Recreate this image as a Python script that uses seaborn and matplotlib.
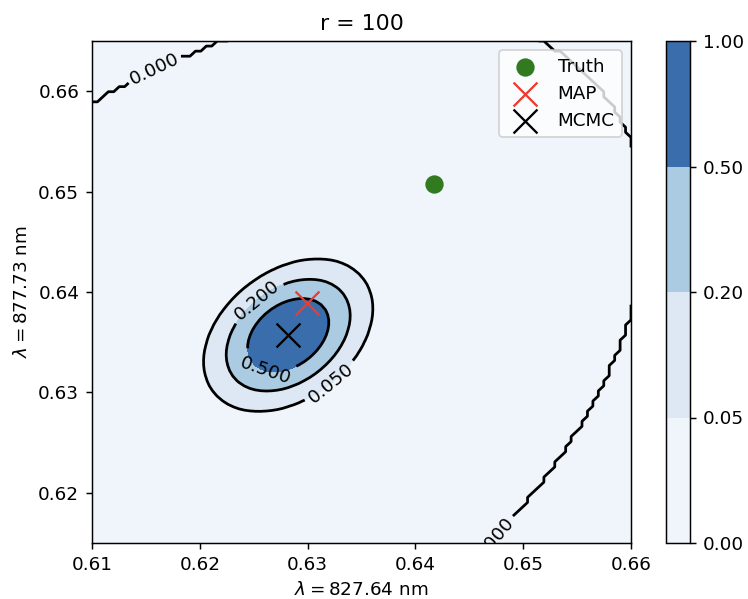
import numpy as np
import matplotlib
matplotlib.use("Agg")
import matplotlib.pyplot as plt
import seaborn as sns

# ---------------- data ----------------
title = "r = 100"
xlabel = r"$\lambda = 827.64$ nm"
ylabel = r"$\lambda = 877.73$ nm"
x_lim = [0.61, 0.66]
y_lim = [0.615, 0.665]
x_ticks = [0.61, 0.62, 0.63, 0.64, 0.65, 0.66]
y_ticks = [0.62, 0.63, 0.64, 0.65, 0.66]
levels = [0.0, 0.05, 0.2, 0.5, 1.0]
level_colors = ["#f0f5fb", "#dde8f4", "#aacbe1", "#3a6dac"]

# posterior core (estimated from the contour extents)
post_center = [0.6282, 0.6357]
post_sigma = [0.0032, 0.0031]
post_rho = 0.35

# points (edge of the non-zero support)
support_x = [0.6100, 0.6160, 0.6219, 0.6507, 0.6518, 0.6593, 0.6600,
             0.6600, 0.6583, 0.6571, 0.6531, 0.6488, 0.6470]
support_y = [0.6585, 0.6618, 0.6650, 0.6650, 0.6643, 0.6568, 0.6553,
             0.6410, 0.6332, 0.6292, 0.6250, 0.6178, 0.6150]

truth = [0.6417, 0.6508]
map_est = [0.6299, 0.6389]
mcmc = [0.6282, 0.6357]

grid_n = 100

# contour-label anchor positions (layout)
label_pos = [(0.6159, 0.6621), (0.6469, 0.6158), (0.6322, 0.6309),
             (0.6251, 0.6394), (0.6262, 0.6324)]

# ---------------- build field ----------------
xs = np.linspace(x_lim[0], x_lim[1], grid_n)
ys = np.linspace(y_lim[0], y_lim[1], grid_n)
X, Y = np.meshgrid(xs, ys)
u = (X - post_center[0]) / post_sigma[0]
v = (Y - post_center[1]) / post_sigma[1]
Q = (u**2 + v**2 - 2 * post_rho * u * v) / (1 - post_rho**2)
Z = np.exp(-0.5 * Q)

sx = (np.array(support_x) - 0.635) * 100
sy = (np.array(support_y) - 0.64) * 100
A = np.column_stack([sx**2, sx * sy, sy**2, sx, sy])
coef, *_ = np.linalg.lstsq(A, np.ones_like(sx), rcond=None)
gx = (X - 0.635) * 100
gy = (Y - 0.64) * 100
conic = (coef[0] * gx**2 + coef[1] * gx * gy + coef[2] * gy**2
         + coef[3] * gx + coef[4] * gy)
Z[conic > 1] = 0.0

# ---------------- plot ----------------
sns.set_style("ticks", {"axes.edgecolor": "black", "text.color": "black",
                        "xtick.color": "black", "ytick.color": "black",
                        "axes.labelcolor": "black",
                        "patch.force_edgecolor": False})

dpi = 132
fig = plt.figure(figsize=(748 / dpi, 599 / dpi), dpi=dpi)
ax = fig.add_axes([92 / 748, 1 - 543 / 599, 539 / 748, 502 / 599])
cax = fig.add_axes([666 / 748, 1 - 543 / 599, 24 / 748, 502 / 599])

cf = ax.contourf(X, Y, Z, levels=levels, colors=level_colors)
cs = ax.contour(X, Y, Z, levels=levels[:-1], colors="black", linewidths=1.5)
ax.clabel(cs, fmt="%.3f", fontsize=10, inline=True, manual=label_pos)

sns.scatterplot(x=[truth[0]], y=[truth[1]], marker="o", s=100,
                color="#327a20", linewidth=0, label="Truth", ax=ax, zorder=5)
sns.scatterplot(x=[map_est[0]], y=[map_est[1]], marker="x", s=170,
                color="#ee3b2f", linewidth=1.25, label="MAP", ax=ax, zorder=5)
sns.scatterplot(x=[mcmc[0]], y=[mcmc[1]], marker="x", s=170,
                color="black", linewidth=1.25, label="MCMC", ax=ax, zorder=5)

ax.set_xlim(x_lim)
ax.set_ylim(y_lim)
ax.set_xticks(x_ticks)
ax.set_yticks(y_ticks)
ax.set_xlabel(xlabel)
ax.set_ylabel(ylabel)
ax.set_title(title)
ax.legend(loc="upper right", frameon=True)

cb = fig.colorbar(cf, cax=cax, ticks=levels, format="%.2f")

fig.savefig("out.png", dpi=dpi)
